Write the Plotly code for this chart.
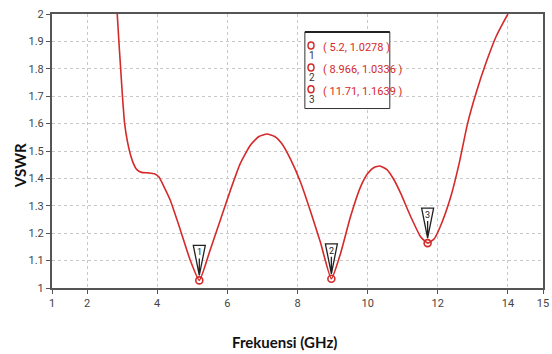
import plotly.graph_objects as go

# ---- data ----
freq = [2.86, 2.91, 2.96, 3.01, 3.07, 3.15, 3.23, 3.32, 3.42, 3.55, 3.75, 3.92, 4.05, 4.18, 4.37,
        4.66, 4.94, 5.2, 5.51, 5.8, 6.09, 6.37, 6.66, 6.9, 7.13, 7.35, 7.55, 7.8, 8.09,
        8.37, 8.66, 8.966, 9.23, 9.51, 9.8, 10.0, 10.18, 10.35, 10.55, 10.75, 10.94, 11.23,
        11.51, 11.71, 11.9, 12.09, 12.37, 12.61, 12.85, 13.09, 13.37, 13.66, 13.85, 14.0]
vswr = [2.0, 1.894, 1.796, 1.698, 1.601, 1.535, 1.49, 1.455, 1.432, 1.422, 1.42, 1.417, 1.405, 1.373, 1.321,
        1.212, 1.102, 1.0278, 1.139, 1.248, 1.358, 1.455, 1.522, 1.553, 1.562, 1.553, 1.527, 1.47, 1.385,
        1.28, 1.164, 1.0336, 1.127, 1.26, 1.37, 1.418, 1.44, 1.445, 1.432, 1.395, 1.346, 1.26,
        1.187, 1.1639, 1.18, 1.23, 1.333, 1.455, 1.601, 1.711, 1.82, 1.917, 1.965, 2.0]

marker_x = [5.2, 8.966, 11.71]
marker_y = [1.0278, 1.0336, 1.1639]
marker_ids = ["1", "2", "3"]
marker_texts = ["( 5.2, 1.0278 )", "( 8.966, 1.0336 )", "( 11.71, 1.1639 )"]

x_ticks = [1, 2, 4, 6, 8, 10, 12, 14, 15]
y_ticks = [1, 1.1, 1.2, 1.3, 1.4, 1.5, 1.6, 1.7, 1.8, 1.9, 2]
y_tick_labels = ["1", "1.1", "1.2", "1.3", "1.4", "1.5", "1.6", "1.7", "1.8", "1.9", "2"]

RED = "#d42a2a"
NARROW = "Roboto, DejaVu Sans, sans-serif"


def nfont(size, color):
    return dict(family=NARROW, size=size, color=color)


fig = go.Figure()
fig.add_trace(go.Scatter(x=freq, y=vswr, mode="lines",
                         line=dict(color=RED, width=1.6, shape="spline", smoothing=0.5),
                         hoverinfo="skip", showlegend=False, cliponaxis=True))
fig.add_trace(go.Scatter(x=marker_x, y=marker_y, mode="markers",
                         marker=dict(symbol="circle-open", size=7, color=RED,
                                     line=dict(width=1.6, color=RED)),
                         showlegend=False, cliponaxis=False))

shapes = []
annotations = []
# marker flags (inverted triangles above each marker)
for mx, my, mid in zip(marker_x, marker_y, marker_ids):
    shapes.append(dict(type="path", xref="x", yref="y", xsizemode="pixel", ysizemode="pixel",
                       xanchor=mx, yanchor=my,
                       path="M -6,35 L 6,35 L 0,5 Z M 0,22 L 0,7",
                       line=dict(color="#222222", width=1.3), fillcolor="rgba(255,255,255,0.9)"))
    annotations.append(dict(x=mx, y=my, xref="x", yref="y", text=mid, showarrow=False,
                            yshift=28, font=nfont(9, "#222222")))

# marker readout box
BOX_X0, BOX_X1, BOX_Y0, BOX_Y1 = 0.515, 0.688, 0.655, 0.934
shapes.append(dict(type="rect", xref="paper", yref="paper", x0=BOX_X0, x1=BOX_X1,
                   y0=BOX_Y0, y1=BOX_Y1, line=dict(color="#333333", width=1),
                   fillcolor="white", layer="above"))
shapes.append(dict(type="line", xref="paper", yref="paper", x0=BOX_X0, x1=BOX_X1,
                   y0=BOX_Y1, y1=BOX_Y1, line=dict(color="#222222", width=2)))
row_y = [0.885, 0.805, 0.725]
for i, (mid, txt) in enumerate(zip(marker_ids, marker_texts)):
    yy = row_y[i]
    shapes.append(dict(type="circle", xref="paper", yref="paper", xsizemode="pixel",
                       ysizemode="pixel", xanchor=0.5275, yanchor=yy,
                       x0=-3, x1=3, y0=-3.5, y1=3.5, line=dict(color=RED, width=1.5),
                       layer="above"))
    annotations.append(dict(x=0.548, y=yy, xref="paper", yref="paper", text=txt,
                            showarrow=False, xanchor="left", yanchor="middle", yshift=-2,
                            font=nfont(11, RED)))
    annotations.append(dict(x=0.5295, y=yy - 0.038, xref="paper", yref="paper", text=mid,
                            showarrow=False, xanchor="center", yanchor="middle",
                            font=nfont(10, "#333333")))

# axis titles
annotations.append(dict(x=-0.065, y=0.445, xref="paper", yref="paper", text="<b>VSWR</b>",
                        showarrow=False, textangle=-90, xanchor="center", yanchor="middle",
                        font=dict(family="Lato, Open Sans, sans-serif", size=15, color="#111111")))
annotations.append(dict(x=0.473, y=-0.197, xref="paper", yref="paper",
                        text="<b>Frekuensi (GHz)</b>", showarrow=False,
                        xanchor="center", yanchor="middle",
                        font=dict(family="Lato, Open Sans, sans-serif", size=15, color="#111111")))

fig.update_layout(
    width=552, height=354,
    margin=dict(l=52, r=9, t=14, b=66, autoexpand=False),
    paper_bgcolor="white", plot_bgcolor="white",
    shapes=shapes, annotations=annotations,
    showlegend=False,
)
fig.update_xaxes(range=[1, 15], tickmode="array", tickvals=x_ticks,
                 ticktext=[str(v) for v in x_ticks], automargin=False,
                 showgrid=True, gridcolor="#c8c8c8", griddash="dot", gridwidth=1,
                 showline=True, linecolor="#555555", linewidth=2, mirror=True,
                 ticks="outside", ticklen=4, tickcolor="#555555",
                 tickfont=nfont(11, "#444444"), zeroline=False)
fig.update_yaxes(range=[1, 2], tickmode="array", tickvals=y_ticks, ticktext=y_tick_labels,
                 automargin=False,
                 showgrid=True, gridcolor="#c8c8c8", griddash="dot", gridwidth=1,
                 showline=True, linecolor="#555555", linewidth=2, mirror=True,
                 ticks="outside", ticklen=4, tickcolor="#555555",
                 tickfont=nfont(11, "#444444"), zeroline=False)

# remove the browser's default page margin so the figure sits at the window's corner
fig.write_html("out.html", config={"displayModeBar": False},
               post_script="document.body.style.margin='0';document.body.style.overflow='hidden';")
